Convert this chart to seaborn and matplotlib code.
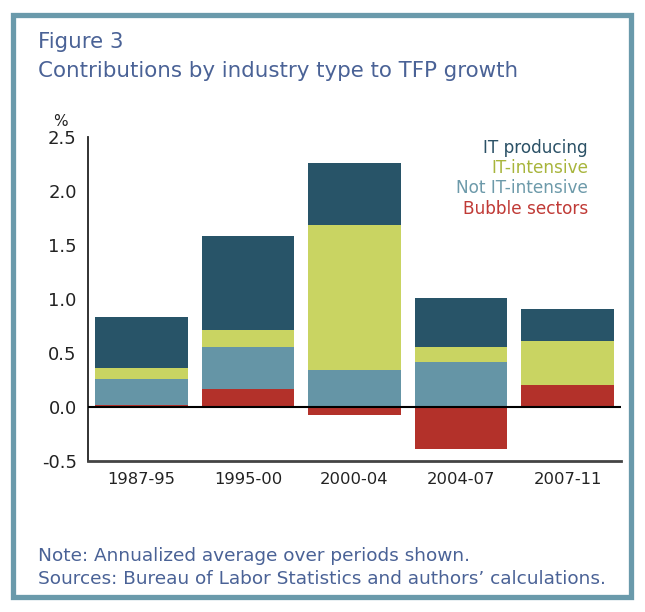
import numpy as np
import pandas as pd
import seaborn as sns
import matplotlib as mpl
import matplotlib.pyplot as plt
from matplotlib.patches import Rectangle
mpl.use('agg')


periods = ['1987-95', '1995-00', '2000-04', '2004-07', '2007-11']
bubble = [0.02, 0.17, -0.07, -0.39, 0.20]
not_it_intensive = [0.24, 0.39, 0.34, 0.42, 0.00]
it_intensive = [0.10, 0.15, 1.35, 0.14, 0.41]
it_producing = [0.47, 0.87, 0.57, 0.45, 0.30]

series = ['IT producing', 'IT-intensive', 'Not IT-intensive', 'Bubble sectors']
colors = {
    'IT producing': '#285468',
    'IT-intensive': '#c9d462',
    'Not IT-intensive': '#6595a6',
    'Bubble sectors': '#b3312a'}
label_colors = {
    'IT producing': '#2b5166',
    'IT-intensive': '#a8b53c',
    'Not IT-intensive': '#6d9aaa',
    'Bubble sectors': '#c03a36'}
text_blue = '#4a6296'
frame_color = '#6a9aab'


df = pd.DataFrame({
    'period': periods,
    'Bubble sectors': bubble,
    'Not IT-intensive': not_it_intensive,
    'IT-intensive': it_intensive,
    'IT producing': it_producing})

# positive parts stack from zero up, negative bubble goes below zero
pos_base = df['Bubble sectors'].clip(lower=0)
stack = pd.DataFrame({'period': periods})
stack['Bubble sectors'] = pos_base
stack['Not IT-intensive'] = stack['Bubble sectors'] + df['Not IT-intensive']
stack['IT-intensive'] = stack['Not IT-intensive'] + df['IT-intensive']
stack['IT producing'] = stack['IT-intensive'] + df['IT producing']
neg = df['Bubble sectors'].clip(upper=0)

sns.set_style('white')
plt.rcParams['font.family'] = ['DejaVu Sans']

f = plt.figure(figsize=(6.45, 6.12), dpi=100)
ax = f.add_axes([0.1364, 0.2467, 0.9628 - 0.1364, 0.7761 - 0.2467])

for name in series:
    sns.barplot(x=stack['period'], y=stack[name], color=colors[name],
                saturation=1, width=0.87, errorbar=None, ax=ax, zorder=2,
                linewidth=0, edgecolor='none')
sns.barplot(x=df['period'], y=neg, color=colors['Bubble sectors'],
            saturation=1, width=0.87, errorbar=None, ax=ax, zorder=2,
            linewidth=0, edgecolor='none')

ax.axhline(0, color='black', lw=1.5, zorder=3)
ax.set_xlim(-0.5, 4.5)
ax.set_ylim(-0.5, 2.5)
ax.set_yticks(np.arange(-0.5, 2.51, 0.5))
ax.set_yticklabels([f'{v:.1f}' for v in np.arange(-0.5, 2.51, 0.5)])
ax.set_xticks(range(5))
ax.set_xticklabels(periods)
ax.set_xticks(np.arange(0.5, 4.5, 1), minor=True)
ax.tick_params(axis='x', which='major', length=0, labelsize=11.8,
               colors='#222222', pad=8)
ax.tick_params(axis='x', which='minor', length=5, width=1.5,
               color='#333333', direction='out')
ax.tick_params(axis='y', length=5, width=1.2, color='#333333',
               labelsize=13, labelcolor='#222222', direction='out', pad=3)
ax.set_xlabel('')
ax.set_ylabel('')
for s in ['top', 'right']:
    ax.spines[s].set_visible(False)
ax.spines['left'].set_color('#222222')
ax.spines['left'].set_linewidth(1.3)
ax.spines['bottom'].set_color('#444444')
ax.spines['bottom'].set_linewidth(2)

f.text(60 / 645, 1 - 121 / 612, '%', fontsize=11,
       color='#222222', ha='center', va='center')

legend_y = [148, 168, 188, 209]
for name, yp in zip(series, legend_y):
    f.text(588 / 645, 1 - yp / 612, name, color=label_colors[name],
           fontsize=12.2, ha='right', va='center')

f.text(38 / 645, 1 - 42 / 612, 'Figure 3', color=text_blue, fontsize=15.4,
       ha='left', va='center')
f.text(38 / 645, 1 - 71 / 612, 'Contributions by industry type to TFP growth',
       color=text_blue, fontsize=15.4, ha='left', va='center')
f.text(38 / 645, 1 - 556 / 612, 'Note: Annualized average over periods shown.',
       color=text_blue, fontsize=13.3, ha='left', va='center')
f.text(38 / 645, 1 - 579 / 612,
       'Sources: Bureau of Labor Statistics and authors\u2019 calculations.',
       color=text_blue, fontsize=13.3, ha='left', va='center')

f.patches.append(Rectangle((12.5 / 645, 1 - 596.5 / 612), 618 / 645, 582 / 612,
                           transform=f.transFigure, fill=False,
                           edgecolor=frame_color, lw=3.8))

f.savefig('out.png', dpi=100)
